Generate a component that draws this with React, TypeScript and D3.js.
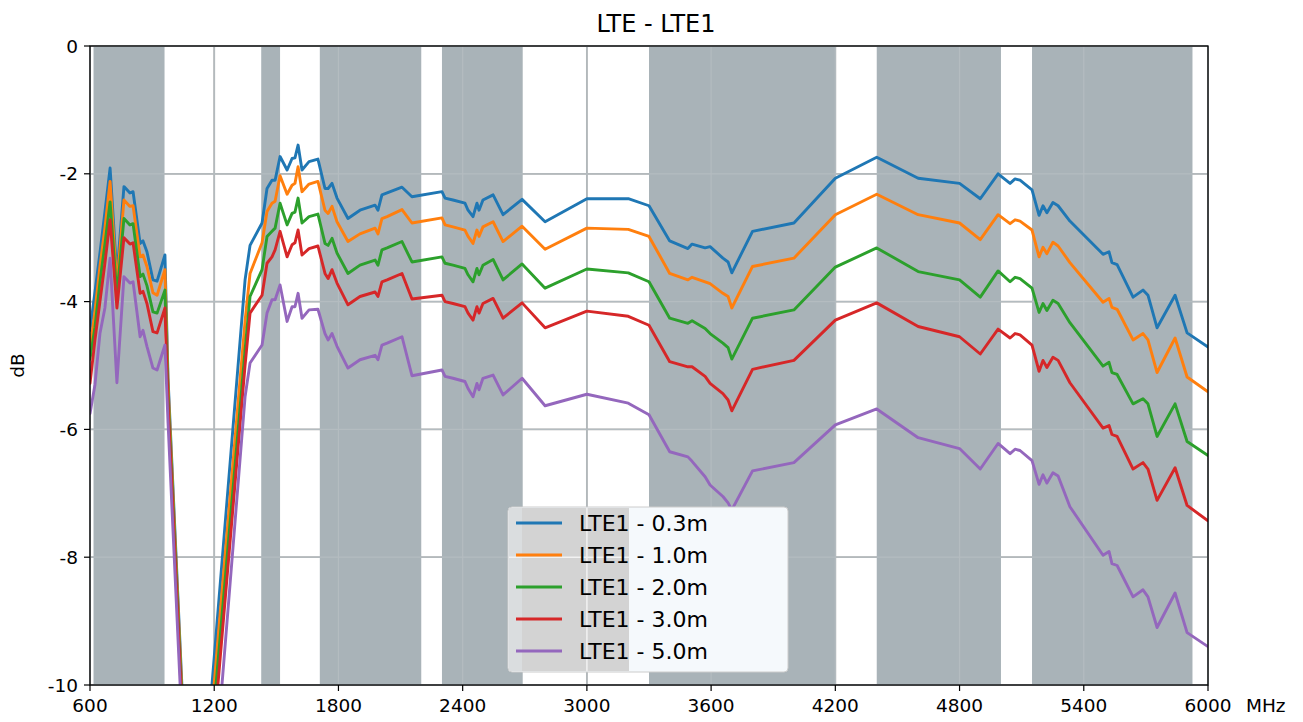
import React from "react";
import * as d3 from "d3";

const title = "LTE - LTE1";
const seriesNames = ["LTE1 - 0.3m", "LTE1 - 1.0m", "LTE1 - 2.0m", "LTE1 - 3.0m", "LTE1 - 5.0m"];
const colors = ["#1f77b4", "#ff7f0e", "#2ca02c", "#d62728", "#9467bd"];
const xTicks = [600, 1200, 1800, 2400, 3000, 3600, 4200, 4800, 5400, 6000];
const yTicks = [0, -2, -4, -6, -8, -10];
const bands: [number, number][] = [
  [617, 960], [1427, 1518], [1710, 2200], [2300, 2690], [3300, 4200], [4400, 5000], [5150, 5925],
];

const freq = [
  600, 624, 648, 672, 697, 730, 764, 793, 808, 842, 856, 875, 904, 924, 962, 977, 1098,
  1131, 1349, 1373, 1431, 1455, 1479, 1494, 1518, 1552, 1576, 1590, 1605, 1624, 1658, 1701,
  1735, 1750, 1769, 1793, 1846, 1904, 1977, 1991, 2010, 2035, 2107, 2155, 2300, 2315, 2353,
  2411, 2426, 2450, 2469, 2479, 2498, 2547, 2595, 2687, 2798, 3000, 3200, 3300, 3400, 3488,
  3508, 3571, 3595, 3657, 3682, 3700, 3800, 4000, 4200, 4400, 4600, 4800, 4900, 4986, 5044,
  5068, 5092, 5150, 5184, 5203, 5222, 5251, 5276, 5333, 5493, 5522, 5536, 5561, 5638, 5686,
  5710, 5754, 5841, 5899, 6000,
];

const s03 = [
  -4.45, -3.85, -3.24, -2.6, -1.91, -3.6, -2.2, -2.3, -2.28, -3.09, -3.05, -3.22, -3.66, -3.68, -3.27, -5.2, -13.9,
  -12.3, -3.66, -3.12, -2.77, -2.23, -2.1, -2.1, -1.73, -1.94, -1.76, -1.75, -1.55, -1.94, -1.81, -1.77,
  -2.23, -2.23, -2.15, -2.38, -2.7, -2.57, -2.49, -2.57, -2.33, -2.3, -2.21, -2.36, -2.28, -2.38, -2.41,
  -2.46, -2.57, -2.67, -2.46, -2.57, -2.41, -2.33, -2.64, -2.4, -2.75, -2.39, -2.39, -2.5, -3.05, -3.17,
  -3.1, -3.16, -3.14, -3.32, -3.38, -3.55, -2.9, -2.77, -2.07, -1.74, -2.07, -2.15, -2.39, -2.0, -2.15,
  -2.08, -2.1, -2.25, -2.65, -2.5, -2.61, -2.45, -2.5, -2.74, -3.26, -3.22, -3.39, -3.42, -3.93, -3.82,
  -3.9, -4.41, -3.9, -4.49, -4.71,
];
const s10 = [
  -4.75, -4.15, -3.45, -2.85, -2.12, -3.75, -2.41, -2.51, -2.5, -3.3, -3.27, -3.45, -3.86, -3.9, -3.5, -5.3, -14.0,
  -12.6, -4.3, -3.56, -3.08, -2.59, -2.46, -2.43, -2.03, -2.32, -2.18, -2.15, -1.89, -2.28, -2.16, -2.12,
  -2.57, -2.62, -2.51, -2.75, -3.06, -2.94, -2.85, -2.94, -2.7, -2.67, -2.56, -2.77, -2.69, -2.8, -2.83,
  -2.88, -2.98, -3.09, -2.88, -2.98, -2.83, -2.75, -3.06, -2.82, -3.18, -2.85, -2.87, -2.98, -3.56, -3.66,
  -3.62, -3.69, -3.72, -3.87, -3.92, -4.1, -3.45, -3.32, -2.64, -2.32, -2.64, -2.77, -3.03, -2.64, -2.78,
  -2.72, -2.74, -2.88, -3.3, -3.15, -3.25, -3.07, -3.13, -3.39, -4.01, -3.95, -4.09, -4.12, -4.6, -4.5,
  -4.6, -5.11, -4.57, -5.18, -5.41,
];
const s20 = [
  -4.9, -4.4, -3.7, -3.1, -2.44, -3.9, -2.7, -2.8, -2.78, -3.61, -3.57, -3.75, -4.16, -4.18, -3.82, -5.45, -14.1,
  -12.9, -4.75, -3.92, -3.5, -2.98, -2.9, -2.85, -2.46, -2.8, -2.62, -2.6, -2.38, -2.77, -2.67, -2.63,
  -3.09, -3.12, -3.01, -3.24, -3.56, -3.43, -3.35, -3.43, -3.19, -3.16, -3.06, -3.38, -3.3, -3.4, -3.43,
  -3.48, -3.58, -3.69, -3.48, -3.58, -3.43, -3.34, -3.66, -3.41, -3.79, -3.49, -3.55, -3.69, -4.26, -4.34,
  -4.3, -4.42, -4.5, -4.65, -4.72, -4.9, -4.26, -4.13, -3.46, -3.16, -3.53, -3.66, -3.93, -3.52, -3.69,
  -3.62, -3.64, -3.79, -4.17, -4.03, -4.14, -3.98, -4.03, -4.33, -5.01, -4.95, -5.11, -5.14, -5.6, -5.52,
  -5.6, -6.11, -5.6, -6.19, -6.41,
];
const s30 = [
  -5.28, -4.6, -4.0, -3.4, -2.72, -4.1, -3.0, -3.1, -3.08, -3.87, -3.84, -4.03, -4.47, -4.49, -4.1, -5.6, -14.2,
  -13.3, -5.0, -4.18, -3.9, -3.4, -3.3, -3.19, -2.9, -3.3, -3.11, -3.08, -2.88, -3.27, -3.17, -3.13,
  -3.56, -3.64, -3.5, -3.71, -4.05, -3.92, -3.85, -3.92, -3.69, -3.66, -3.56, -3.96, -3.9, -4.0, -4.03,
  -4.08, -4.18, -4.29, -4.08, -4.18, -4.03, -3.95, -4.26, -4.02, -4.41, -4.15, -4.23, -4.37, -4.94, -5.02,
  -5.02, -5.17, -5.28, -5.44, -5.54, -5.71, -5.06, -4.92, -4.29, -4.02, -4.39, -4.55, -4.82, -4.43, -4.57,
  -4.5, -4.52, -4.68, -5.09, -4.92, -5.03, -4.87, -4.92, -5.27, -5.98, -5.94, -6.08, -6.11, -6.62, -6.52,
  -6.62, -7.11, -6.6, -7.19, -7.43,
];
const s50 = [
  -5.75, -5.3, -4.5, -4.1, -3.32, -5.27, -3.61, -3.71, -3.69, -4.55, -4.45, -4.7, -5.04, -5.07, -4.68, -5.9, -14.4,
  -14.3, -5.49, -4.96, -4.68, -4.18, -3.97, -3.97, -3.74, -4.31, -4.08, -4.08, -3.87, -4.26, -4.13, -4.12,
  -4.5, -4.6, -4.5, -4.7, -5.04, -4.91, -4.84, -4.91, -4.68, -4.65, -4.55, -5.16, -5.07, -5.17, -5.2,
  -5.25, -5.36, -5.49, -5.28, -5.38, -5.2, -5.15, -5.46, -5.2, -5.63, -5.45, -5.59, -5.77, -6.35, -6.43,
  -6.5, -6.74, -6.87, -7.05, -7.15, -7.26, -6.65, -6.52, -5.93, -5.68, -6.13, -6.3, -6.62, -6.22, -6.38,
  -6.31, -6.33, -6.49, -6.86, -6.71, -6.84, -6.68, -6.73, -7.21, -7.97, -7.91, -8.1, -8.13, -8.62, -8.51,
  -8.62, -9.1, -8.56, -9.18, -9.4,
];
const seriesValues = [s03, s10, s20, s30, s50];

const W = 1303;
const H = 722;
const M = { left: 90, right: 1208, top: 46, bottom: 685 };
const FONT = "'DejaVu Sans', sans-serif";

export default function App() {
  const x = d3.scaleLinear().domain([600, 6000]).range([M.left, M.right]);
  const y = d3.scaleLinear().domain([-10, 0]).range([M.bottom, M.top]);
  const line = d3
    .line<number>()
    .x((_, i) => x(freq[i]))
    .y((d) => y(d));

  const legX = 508, legY = 507, legW = 280, legH = 165;
  const rowY = (i: number) => 523 + i * 32;

  return (
    <svg
      width={W}
      height={H}
      style={{ position: "absolute", left: 0, top: 0, background: "#fff" }}
      fontFamily={FONT}
    >
      <defs>
        <clipPath id="plotclip">
          <rect x={M.left} y={M.top} width={M.right - M.left} height={M.bottom - M.top} />
        </clipPath>
      </defs>
      <rect x={0} y={0} width={W} height={H} fill="#fff" />
      {xTicks.map((t) => (
        <line key={"gx" + t} x1={x(t)} x2={x(t)} y1={M.top} y2={M.bottom} stroke="#b0b0b0" strokeWidth={1.8} />
      ))}
      {yTicks.map((t) => (
        <line key={"gy" + t} x1={M.left} x2={M.right} y1={y(t)} y2={y(t)} stroke="#b0b0b0" strokeWidth={1.8} />
      ))}
      {bands.map(([a, b], i) => (
        <rect key={"b" + i} x={x(a)} y={M.top} width={x(b) - x(a)} height={M.bottom - M.top} fill="#a9b3b8" />
      ))}
      {xTicks.map((t) => (
        <line key={"gx2" + t} x1={x(t)} x2={x(t)} y1={M.top} y2={M.bottom} stroke="#b4bcc0" strokeWidth={1.2} />
      ))}
      {yTicks.map((t) => (
        <line key={"gy2" + t} x1={M.left} x2={M.right} y1={y(t)} y2={y(t)} stroke="#b4bcc0" strokeWidth={1.2} />
      ))}
      <g clipPath="url(#plotclip)">
        {seriesValues.map((vals, i) => (
          <path
            key={"s" + i}
            d={line(vals) || ""}
            fill="none"
            stroke={colors[i]}
            strokeWidth={2.9}
            strokeLinejoin="round"
            strokeLinecap="round"
          />
        ))}
      </g>
      <rect x={M.left} y={M.top} width={M.right - M.left} height={M.bottom - M.top} fill="none" stroke="#000" strokeWidth={1.3} />
      {xTicks.map((t) => (
        <g key={"xt" + t}>
          <line x1={x(t)} x2={x(t)} y1={M.bottom} y2={M.bottom + 6} stroke="#000" strokeWidth={1.2} />
          <text x={x(t)} y={M.bottom + 27} textAnchor="middle" fontSize={18.5} fill="#000">
            {t}
          </text>
        </g>
      ))}
      {yTicks.map((t) => (
        <g key={"yt" + t}>
          <line x1={M.left - 6} x2={M.left} y1={y(t)} y2={y(t)} stroke="#000" strokeWidth={1.2} />
          <text x={M.left - 12} y={y(t) + 6.5} textAnchor="end" fontSize={18.5} fill="#000">
            {t}
          </text>
        </g>
      ))}
      <text x={1246} y={M.bottom + 27} fontSize={18.5} fill="#000">
        MHz
      </text>
      <text transform={`translate(24, ${(M.top + M.bottom) / 2}) rotate(-90)`} textAnchor="middle" fontSize={18.5} fill="#000">
        dB
      </text>
      <text x={656} y={32} textAnchor="middle" fontSize={24} fill="#000">
        {title}
      </text>
      <g>
        <rect x={legX} y={legY} width={legW} height={legH} rx={4} fill="#f5f9fc" stroke="#cccccc" strokeWidth={1} />
        <rect x={legX + 1} y={legY + 1} width={14} height={legH - 2} fill="#dadddf" />
        <rect x={522} y={legY + 1} width={629 - 522} height={legH - 2} fill="#d3d3d3" />
        <line x1={x(3000)} x2={x(3000)} y1={legY + 1} y2={legY + legH - 1} stroke="#f2f2f2" strokeWidth={1.5} />
        <line x1={legX + 1} x2={629} y1={y(-8)} y2={y(-8)} stroke="#f2f2f2" strokeWidth={1.5} />
        {seriesNames.map((n, i) => (
          <g key={"lg" + i}>
            <line x1={516} x2={562} y1={rowY(i)} y2={rowY(i)} stroke={colors[i]} strokeWidth={2.9} />
            <text x={579} y={rowY(i) + 8} fontSize={22} fill="#000">
              {n}
            </text>
          </g>
        ))}
      </g>
    </svg>
  );
}
